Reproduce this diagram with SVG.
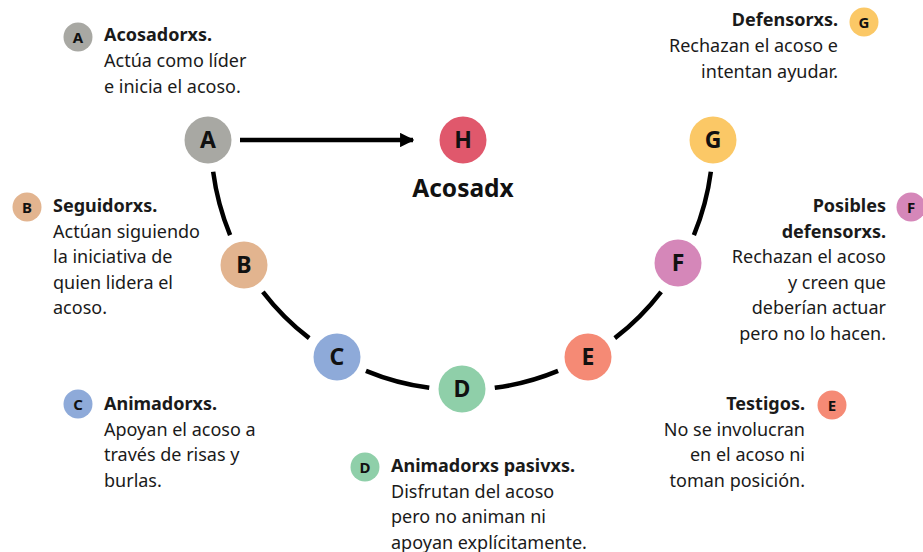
<svg xmlns="http://www.w3.org/2000/svg" width="923" height="552" viewBox="0 0 923 552">
<style>
.t{font-family:"Noto Sans","Liberation Sans",sans-serif;font-size:18px;fill:#1a1a1a}
.b{font-weight:bold}
.r{text-anchor:end}
.big{font-family:"Noto Sans","Liberation Sans",sans-serif;font-size:23px;font-weight:bold;fill:#111;text-anchor:middle}
.sm{font-family:"Noto Sans","Liberation Sans",sans-serif;font-size:15px;font-weight:bold;fill:#111;text-anchor:middle}
.arc{fill:none;stroke:#000;stroke-width:4.5}
</style>
<defs>
<marker id="ah" viewBox="0 0 10 10" refX="9" refY="5" markerWidth="3.2" markerHeight="3.2" orient="auto" markerUnits="strokeWidth">
<path d="M0 0 L10 5 L0 10 Z" fill="#000"/>
</marker>
</defs>
<rect width="923" height="552" fill="#fff"/>
<g id="connectors">
<path class="arc" d="M213.15 171.76 A251 251 0 0 0 230.11 235.05"/>
<path class="arc" d="M262.87 291.80 A251 251 0 0 0 309.20 338.13"/>
<path class="arc" d="M365.95 370.89 A251 251 0 0 0 429.24 387.85"/>
<path class="arc" d="M494.76 387.85 A251 251 0 0 0 558.05 370.89"/>
<path class="arc" d="M614.80 338.13 A251 251 0 0 0 661.13 291.80"/>
<path class="arc" d="M693.89 235.05 A251 251 0 0 0 710.85 171.76"/>
<line x1="240" y1="140" x2="413" y2="140" stroke="#000" stroke-width="4.5" marker-end="url(#ah)"/>
</g>
<g id="node-A">
<circle cx="208" cy="140" r="23.5" fill="#a8a8a3"/>
<text class="big" x="208" y="148">A</text>
<circle cx="78" cy="37" r="14.5" fill="#a8a8a3"/>
<text class="sm" x="78" y="42.5">A</text>
<text class="t b" x="104" y="41">Acosadorxs.</text>
<text class="t" x="104" y="67">Actúa como líder</text>
<text class="t" x="104" y="93">e inicia el acoso.</text>
</g>
<g id="node-H">
<circle cx="463" cy="140" r="23.5" fill="#e0586c"/>
<text class="big" x="463" y="148">H</text>
<text class="big" x="463" y="197" style="font-size:24.5px">Acosadx</text>
</g>
<g id="node-B">
<circle cx="244" cy="265" r="23.5" fill="#e2b48f"/>
<text class="big" x="244" y="273">B</text>
<circle cx="27" cy="207" r="14.5" fill="#e2b48f"/>
<text class="sm" x="27" y="212.5">B</text>
<text class="t b" x="53" y="212">Seguidorxs.</text>
<text class="t" x="53" y="237.5">Actúan siguiendo</text>
<text class="t" x="53" y="263">la iniciativa de</text>
<text class="t" x="53" y="288.5">quien lidera el</text>
<text class="t" x="53" y="314">acoso.</text>
</g>
<g id="node-C">
<circle cx="337" cy="357" r="23.5" fill="#8eaad9"/>
<text class="big" x="337" y="365">C</text>
<circle cx="78" cy="404" r="14.5" fill="#8eaad9"/>
<text class="sm" x="78" y="409.5">C</text>
<text class="t b" x="104" y="410">Animadorxs.</text>
<text class="t" x="104" y="435.5">Apoyan el acoso a</text>
<text class="t" x="104" y="461">través de risas y</text>
<text class="t" x="104" y="486.5">burlas.</text>
</g>
<g id="node-D">
<circle cx="462" cy="389" r="23.5" fill="#8fcfa9"/>
<text class="big" x="462" y="397">D</text>
<circle cx="365" cy="467" r="14.5" fill="#8fcfa9"/>
<text class="sm" x="365" y="472.5">D</text>
<text class="t b" x="391" y="472">Animadorxs pasivxs.</text>
<text class="t" x="391" y="497.5">Disfrutan del acoso</text>
<text class="t" x="391" y="523">pero no animan ni</text>
<text class="t" x="391" y="548.5">apoyan explícitamente.</text>
</g>
<g id="node-E">
<circle cx="588" cy="357" r="23.5" fill="#f58a75"/>
<text class="big" x="588" y="365">E</text>
<circle cx="832" cy="405" r="14.5" fill="#f58a75"/>
<text class="sm" x="832" y="410.5">E</text>
<text class="t b r" x="805" y="410">Testigos.</text>
<text class="t r" x="805" y="435.5">No se involucran</text>
<text class="t r" x="805" y="461">en el acoso ni</text>
<text class="t r" x="805" y="486.5">toman posición.</text>
</g>
<g id="node-F">
<circle cx="678" cy="263" r="23.5" fill="#d587b9"/>
<text class="big" x="678" y="271">F</text>
<circle cx="911" cy="207" r="14.5" fill="#d587b9"/>
<text class="sm" x="911" y="212.5">F</text>
<text class="t b r" x="886" y="212">Posibles</text>
<text class="t b r" x="886" y="237.5">defensorxs.</text>
<text class="t r" x="886" y="263">Rechazan el acoso</text>
<text class="t r" x="886" y="288.5">y creen que</text>
<text class="t r" x="886" y="314">deberían actuar</text>
<text class="t r" x="886" y="339.5">pero no lo hacen.</text>
</g>
<g id="node-G">
<circle cx="713" cy="140" r="23.5" fill="#fbc866"/>
<text class="big" x="713" y="148">G</text>
<circle cx="864" cy="22" r="14.5" fill="#fbc866"/>
<text class="sm" x="864" y="27.5">G</text>
<text class="t b r" x="838" y="26">Defensorxs.</text>
<text class="t r" x="838" y="52">Rechazan el acoso e</text>
<text class="t r" x="838" y="77.5">intentan ayudar.</text>
</g>
</svg>
